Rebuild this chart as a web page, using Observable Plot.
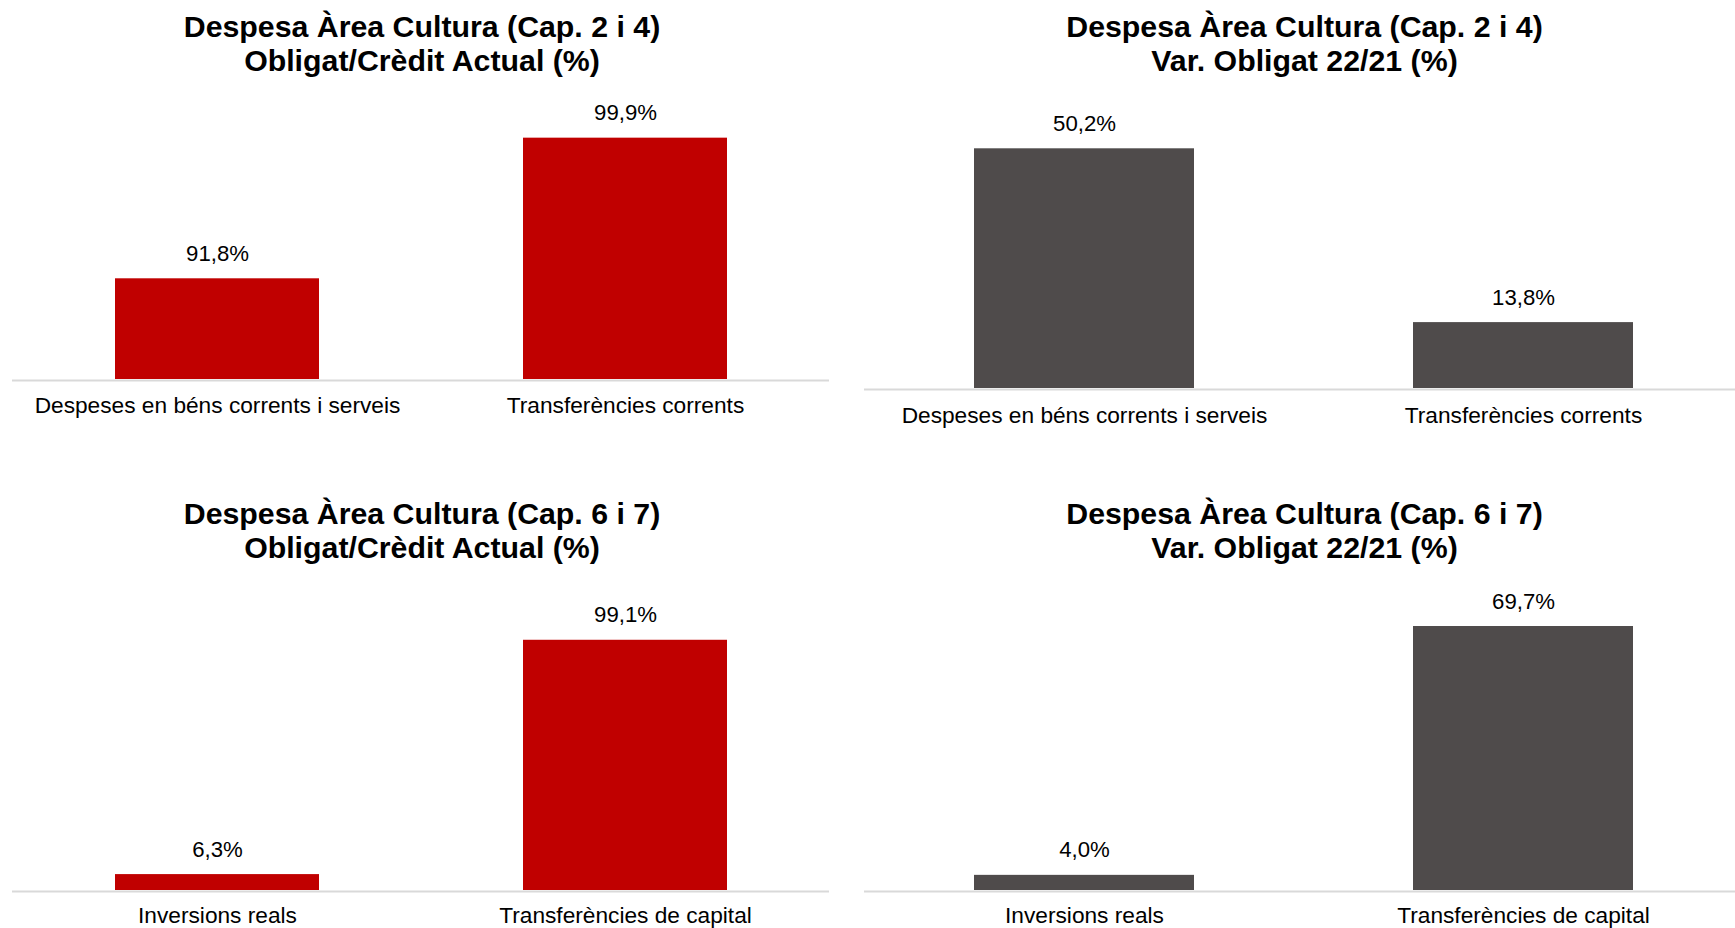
<!DOCTYPE html>
<html><head><meta charset="utf-8">
<script src="https://cdn.jsdelivr.net/npm/d3@7"></script>
<script src="https://cdn.jsdelivr.net/npm/@observablehq/plot@0.6"></script>
<style>
body{margin:0;background:#fff;}
#root{position:relative;width:1735px;height:928px;overflow:hidden;background:#fff;font-family:"Liberation Sans",Arial,sans-serif;}
.title{position:absolute;width:800px;text-align:center;font-weight:bold;font-size:30.3px;line-height:34px;color:#000;white-space:nowrap;}
.panel{position:absolute;}
.panel svg{max-width:none;overflow:visible;}
</style></head><body><div id="root"></div>
<script>
// Data
const catsCap24 = ["Despeses en béns corrents i serveis", "Transferències corrents"];
const obligCap24 = [91.8, 99.9];
const varCap24 = [50.2, 13.8];
const catsCap67 = ["Inversions reals", "Transferències de capital"];
const obligCap67 = [6.3, 99.1];
const varCap67 = [4.0, 69.7];
const titlesTop = [["Despesa Àrea Cultura (Cap. 2 i 4)", "Obligat/Crèdit Actual (%)"], ["Despesa Àrea Cultura (Cap. 2 i 4)", "Var. Obligat 22/21 (%)"]];
const titlesBottom = [["Despesa Àrea Cultura (Cap. 6 i 7)", "Obligat/Crèdit Actual (%)"], ["Despesa Àrea Cultura (Cap. 6 i 7)", "Var. Obligat 22/21 (%)"]];
const yDomains = {tl: [86, 102], tr: [0, 60], bl: [0, 120], br: [0, 80]};

const RED = "#C00000", GREY = "#4F4B4B", AXIS = "#D9D9D9";
const locale = d3.formatLocale({decimal: ",", thousands: ".", grouping: [3], currency: ["", "€"]});
const fmt = v => locale.format(".1f")(v) + "%";
const root = document.getElementById("root");

function addTitle(lines, cx, top) {
  const d = document.createElement("div");
  d.className = "title";
  d.style.left = (cx - 400) + "px";
  d.style.top = top + "px";
  d.innerHTML = lines.join("<br>");
  root.appendChild(d);
}

function addPanel({cats, values, color, domain, left, top, width, height, mt, mb, ml, mr, xRange, pad}) {
  const data = cats.map((c, i) => ({cat: c, value: values[i]}));
  const xOpt = {domain: cats, paddingInner: 0.5, paddingOuter: 0.25, label: null};
  if (xRange) xOpt.range = xRange;
  const svg = Plot.plot({
    width, height, marginTop: mt, marginBottom: mb, marginLeft: ml, marginRight: mr,
    style: {fontFamily: "'Liberation Sans', Arial, sans-serif", background: "transparent", color: "#000", overflow: "visible"},
    x: xOpt,
    y: {domain, axis: null},
    marks: [
      Plot.barY(data, {x: "cat", y1: domain[0], y2: "value", fill: color}),
      Plot.ruleY([domain[0]], {stroke: AXIS, strokeWidth: 2, dy: 1}),
      Plot.text(data, {x: "cat", y: "value", text: d => fmt(d.value), dy: -25, fontSize: 22.2, fill: "#000"}),
      Plot.axisX({tickSize: 0, tickPadding: pad, fontSize: 22.7, fill: "#000", label: null})
    ]
  });
  const wrap = document.createElement("div");
  wrap.className = "panel";
  wrap.style.left = left + "px";
  wrap.style.top = top + "px";
  wrap.appendChild(svg);
  root.appendChild(wrap);
}

// Top-left
addPanel({cats: catsCap24, values: obligCap24, color: RED, domain: yDomains.tl,
  left: 0, top: 0, width: 867, height: 464, mt: 101.2, mb: 85, ml: 12, mr: 38, pad: 17.5});
// Top-right
addPanel({cats: catsCap24, values: varCap24, color: GREY, domain: yDomains.tr,
  left: 864, top: 0, width: 871, height: 464, mt: 101.5, mb: 76, ml: 0, mr: 0, xRange: [0, 878], pad: 18});
// Bottom-left
addPanel({cats: catsCap67, values: obligCap67, color: RED, domain: yDomains.bl,
  left: 0, top: 464, width: 867, height: 464, mt: 123, mb: 38, ml: 12, mr: 38, pad: 16.5});
// Bottom-right
addPanel({cats: catsCap67, values: varCap67, color: GREY, domain: yDomains.br,
  left: 864, top: 464, width: 871, height: 464, mt: 123, mb: 38, ml: 0, mr: 0, xRange: [0, 878], pad: 16.5});

addTitle(titlesTop[0], 422, 9.5);
addTitle(titlesTop[1], 1304.5, 9.5);
addTitle(titlesBottom[0], 422, 496.5);
addTitle(titlesBottom[1], 1304.5, 496.5);
</script>
</body></html>
